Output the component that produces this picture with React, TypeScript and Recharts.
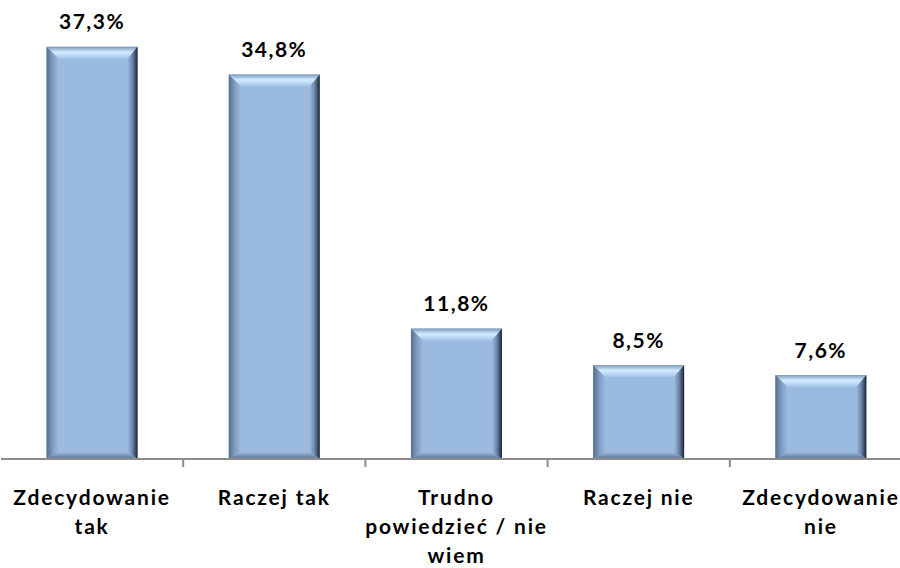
import React from 'react';
import { BarChart, Bar, XAxis, YAxis, LabelList } from 'recharts';

const categories = ['Zdecydowanie\ntak', 'Raczej tak', 'Trudno\npowiedzieć / nie\nwiem', 'Raczej nie', 'Zdecydowanie\nnie'];
const values = [37.3, 34.8, 11.8, 8.5, 7.6];
const valueLabels = ['37,3%', '34,8%', '11,8%', '8,5%', '7,6%'];

const data = categories.map((c, i) => ({ name: c, value: values[i], label: valueLabels[i] }));

const W = 912;
const H = 568;
const ML = 1;
const MR = 0;
const FONT = 'Lato, "Open Sans", sans-serif';

const BevelBar = (props: any) => {
  const { x, y, width, height } = props;
  if (!height || height <= 0) return null;
  const bt = 12;
  const bl = 12;
  const br = 10;
  const bb = 7;
  return (
    <g>
      <rect x={x} y={y} width={width} height={height} fill="#9bbae0" />
      <polygon
        points={`${x},${y} ${x + width},${y} ${x + width - br},${y + bt} ${x + bl},${y + bt}`}
        fill="url(#gTop)"
      />
      <polygon
        points={`${x},${y} ${x + bl},${y + bt} ${x + bl},${y + height - bb} ${x},${y + height}`}
        fill="url(#gLeft)"
      />
      <polygon
        points={`${x + width},${y} ${x + width},${y + height} ${x + width - br},${y + height - bb} ${x + width - br},${y + bt}`}
        fill="url(#gRight)"
      />
      <polygon
        points={`${x},${y + height} ${x + bl},${y + height - bb} ${x + width - br},${y + height - bb} ${x + width},${y + height}`}
        fill="url(#gBottom)"
      />
    </g>
  );
};

const CategoryTick = (props: any) => {
  const { x, y, payload, index } = props;
  const catW = (W - ML - MR) / categories.length;
  const lines = String(payload.value).split('\n');
  return (
    <g>
      {index < categories.length - 1 && (
        <line x1={x + catW / 2} x2={x + catW / 2} y1={y - 8} y2={y} stroke="#8c8c8c" strokeWidth={2} />
      )}
      {lines.map((ln, i) => (
        <text
          key={i}
          x={x}
          y={y + 29 + i * 29}
          textAnchor="middle"
          dominantBaseline="central"
          fontFamily={FONT}
          fontWeight={700}
          fontSize={21}
          letterSpacing={1.8}
          fill="#000"
        >
          {ln}
        </text>
      ))}
    </g>
  );
};

const ValueLabel = (props: any) => {
  const { x, y, width, index } = props;
  return (
    <text
      x={x + width / 2}
      y={y - 26}
      textAnchor="middle"
      dominantBaseline="central"
      fontFamily={FONT}
      fontWeight={700}
      fontSize={21}
      letterSpacing={1.5}
      fill="#000"
    >
      {valueLabels[index]}
    </text>
  );
};

export default function App() {
  return (
    <div style={{ position: 'absolute', left: 0, top: 0, width: 900, height: 568, overflow: 'hidden', background: '#fff' }}>
      <BarChart width={W} height={H} data={data} margin={{ top: 17, right: MR, bottom: 0, left: ML }} barCategoryGap="25%">
        <defs>
          <linearGradient id="gTop" x1="0" y1="0" x2="0" y2="1">
            <stop offset="0%" stopColor="#7f99bb" />
            <stop offset="45%" stopColor="#d2ecff" />
            <stop offset="100%" stopColor="#a4c3e8" />
          </linearGradient>
          <linearGradient id="gLeft" x1="0" y1="0" x2="1" y2="0">
            <stop offset="0%" stopColor="#566e8f" />
            <stop offset="50%" stopColor="#7f9bc0" />
            <stop offset="100%" stopColor="#9bbae0" />
          </linearGradient>
          <linearGradient id="gRight" x1="0" y1="0" x2="1" y2="0">
            <stop offset="0%" stopColor="#9bbae0" />
            <stop offset="50%" stopColor="#6a84a8" />
            <stop offset="100%" stopColor="#1b2331" />
          </linearGradient>
          <linearGradient id="gBottom" x1="0" y1="0" x2="0" y2="1">
            <stop offset="0%" stopColor="#9bbae0" />
            <stop offset="100%" stopColor="#5c7292" />
          </linearGradient>
        </defs>
        <YAxis hide domain={[0, 40]} />
        <XAxis
          dataKey="name"
          height={109}
          interval={0}
          tickLine={false}
          axisLine={{ stroke: '#8c8c8c', strokeWidth: 2 }}
          tick={<CategoryTick />}
        />
        <Bar dataKey="value" isAnimationActive={false} shape={<BevelBar />}>
          <LabelList dataKey="label" content={<ValueLabel />} />
        </Bar>
      </BarChart>
    </div>
  );
}
